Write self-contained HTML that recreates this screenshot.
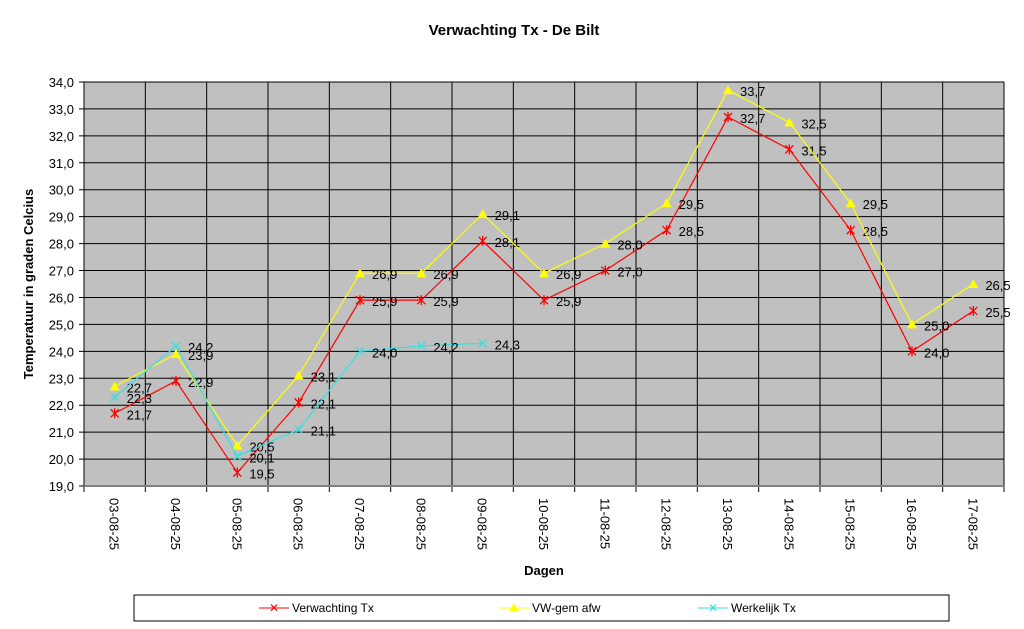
<!DOCTYPE html>
<html><head><meta charset="utf-8"><style>
body{margin:0;background:#fff;font-family:"Liberation Sans",Arial,sans-serif}
svg{display:block}
</style></head><body>
<svg id="c" width="1024" height="629" xmlns="http://www.w3.org/2000/svg">
<text x="514" y="35" text-anchor="middle" font-size="15" font-weight="bold">Verwachting Tx - De Bilt</text>
<rect x="84" y="82" width="920" height="404" fill="#c0c0c0"/>
<g id="grid"></g>
<g id="series"></g>
<text transform="translate(33,284) rotate(-90)" text-anchor="middle" font-size="13" font-weight="bold">Temperatuur in graden Celcius</text>
<text x="544" y="575" text-anchor="middle" font-size="13" font-weight="bold">Dagen</text>
<g>
<rect x="134" y="595" width="815" height="26" fill="#fff" stroke="#000" stroke-width="1"/>
<g>
<line x1="259" y1="608" x2="289" y2="608" stroke="#ff0000"/><text x="274" y="612" text-anchor="middle" fill="#ff0000" font-size="12">✕</text>
<text x="292" y="612" font-size="12">Verwachting Tx</text></g>
<g>
<line x1="499" y1="608" x2="529" y2="608" stroke="#ffff00"/><polygon points="514,603 518.5,611 509.5,611" fill="#ffff00"/>
<text x="532" y="612" font-size="12">VW-gem afw</text></g>
<g>
<line x1="698" y1="608" x2="728" y2="608" stroke="#33e0e0"/><text x="713" y="612" text-anchor="middle" fill="#33e0e0" font-size="12">✕</text>
<text x="731" y="612" font-size="12">Werkelijk Tx</text></g>
</g>
</svg>
<script>
const categories=["03-08-25","04-08-25","05-08-25","06-08-25","07-08-25","08-08-25","09-08-25","10-08-25","11-08-25","12-08-25","13-08-25","14-08-25","15-08-25","16-08-25","17-08-25"];
const verwachting=[21.7,22.9,19.5,22.1,25.9,25.9,28.1,25.9,27.0,28.5,32.7,31.5,28.5,24.0,25.5];
const vwGem=[22.7,23.9,20.5,23.1,26.9,26.9,29.1,26.9,28.0,29.5,33.7,32.5,29.5,25.0,26.5];
const werkelijk=[22.3,24.2,20.1,21.1,24.0,24.2,24.3];
const yTicks=[19,20,21,22,23,24,25,26,27,28,29,30,31,32,33,34];

const NS="http://www.w3.org/2000/svg";
const L=84,T=82,W=920,H=404,yMin=19,yMax=34;
const band=W/categories.length;
const xs=i=>L+band*(i+0.5);
const ys=v=>T+H-(v-yMin)/(yMax-yMin)*H;
function mk(tag,attrs,parent){const e=document.createElementNS(NS,tag);for(const k in attrs)e.setAttribute(k,attrs[k]);parent.appendChild(e);return e;}
const grid=document.getElementById('grid'),ser=document.getElementById('series');
yTicks.forEach(v=>{
  const y=ys(v);
  const l=mk('line',{x1:L-5,x2:L+W,y1:y,y2:y,stroke:'#000','stroke-width':1},grid);
  
  
  const t=mk('text',{x:L-10,y:y+5,'text-anchor':'end','font-size':13},grid);
  t.textContent=v.toFixed(1).replace('.',',');
  
  
});
for(let i=0;i<=categories.length;i++){
  const x=L+band*i;
  const l=mk('line',{x1:x,x2:x,y1:T,y2:T+H+6,stroke:'#000','stroke-width':1},grid);
  
  
}
mk('line',{x1:L,x2:L+W,y1:T+H,y2:T+H,stroke:'#808080','stroke-width':2},grid);
categories.forEach((c,i)=>{
  const t=mk('text',{transform:`translate(${xs(i)-5},${T+H+12}) rotate(90)`,'font-size':13},grid);
  t.textContent=c;
  
  
});
function series(data,color,marker,name){
  const g=mk('g',{},ser);
  
  
  mk('polyline',{points:data.map((v,i)=>xs(i)+','+ys(v)).join(' '),fill:'none',stroke:color,'stroke-width':1.2},g);
  data.forEach((v,i)=>{
    const x=xs(i),y=ys(v);
    if(marker==='tri'){
      const p=mk('polygon',{points:`${x},${y-5} ${x+5},${y+4} ${x-5},${y+4}`,fill:color},g);
      
      
    }else{
      const p=mk('path',{d:`M${x-4},${y-4}L${x+4},${y+4}M${x+4},${y-4}L${x-4},${y+4}`+(marker==='star'?`M${x},${y-5}L${x},${y+5}`:''),stroke:color,'stroke-width':1.3},g);
      
      
    }
    const t=mk('text',{x:x+12,y:y+6,'font-size':13,fill:'#000'},g);
    t.textContent=v.toFixed(1).replace('.',',');
    
    
  });
}
series(verwachting,'#ff0000','star','series-verwachting');
series(vwGem,'#ffff00','tri','series-vw-gem');
series(werkelijk,'#33e0e0','x','series-werkelijk');
</script>
</body></html>
